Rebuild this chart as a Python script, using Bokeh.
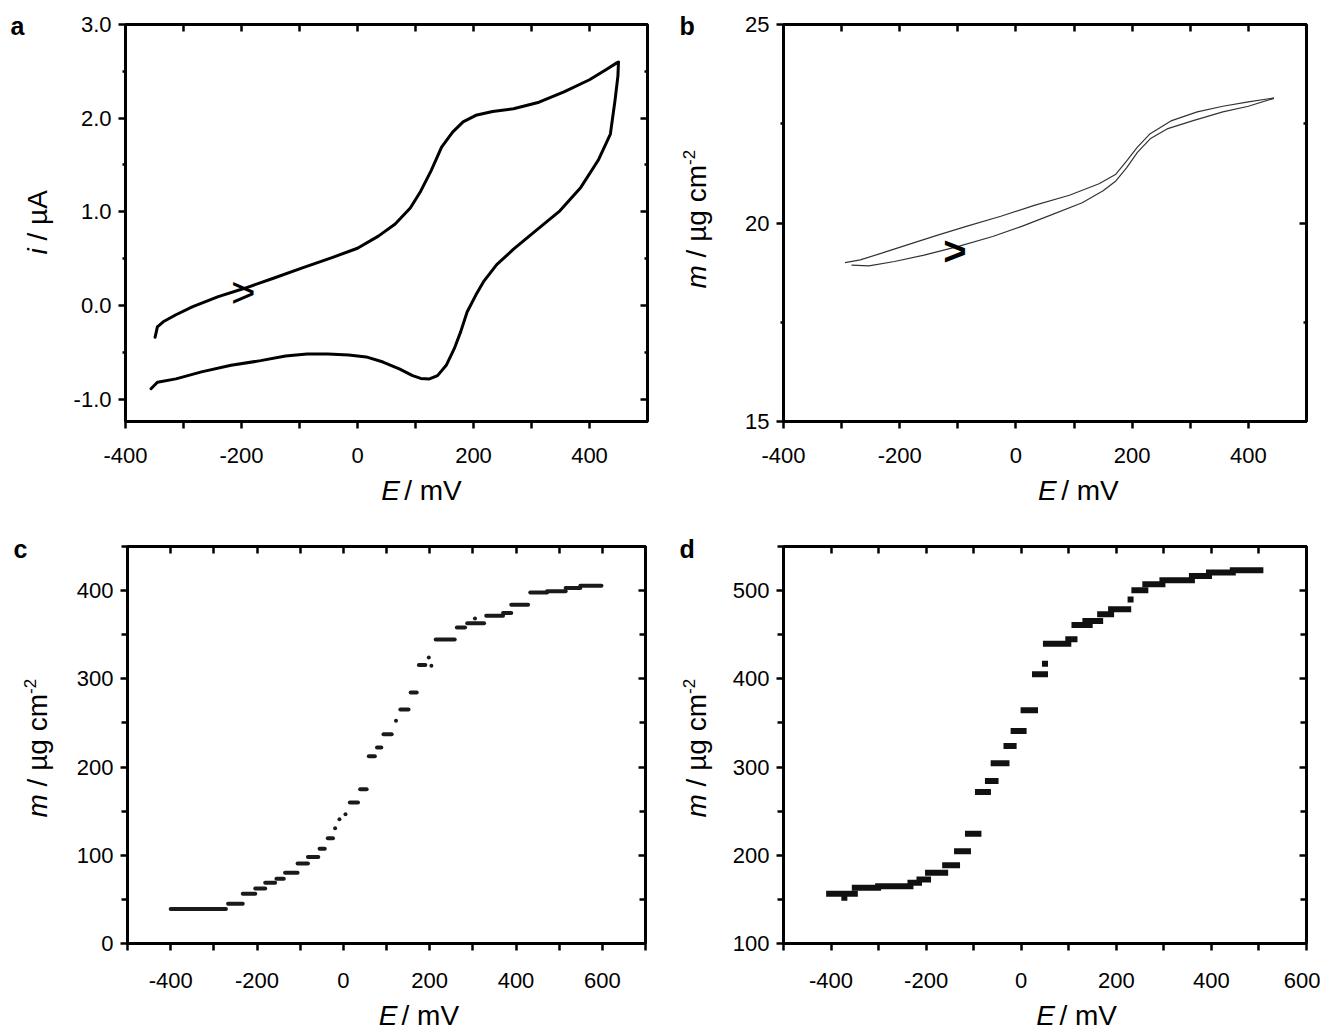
import math
from bokeh.plotting import figure
from bokeh.models import (Range1d, FixedTicker, LinearAxis, Label,
                          PrintfTickFormatter, CustomJSTickFormatter)
from bokeh.layouts import column, row
from bokeh.embed import file_html
from bokeh.resources import INLINE
from bokeh.core.properties import value

FONT = "Liberation Sans"

# ---------------- data ----------------
# (a) cyclic voltammogram: forward scan then reverse scan
cv_E = [-349, -345, -335, -313, -284, -240, -196, -145, -95, -44, 0, 36, 65, 91, 109, 127,
        145, 164, 182, 204, 233, 269, 313, 356, 400, 429, 447, 450,
        449, 444, 436, 415, 385, 349, 306, 269, 240, 218, 204, 189, 178, 167, 153, 138, 124,
        109, 95, 73, 44, 15, -15, -51, -87, -124, -167, -218, -269, -313, -345, -356]
cv_i = [-0.34, -0.23, -0.175, -0.10, -0.013, 0.094, 0.18, 0.29, 0.40, 0.51, 0.61, 0.74, 0.87,
        1.04, 1.22, 1.44, 1.69, 1.85, 1.96, 2.03, 2.07, 2.10, 2.17, 2.28, 2.41, 2.52, 2.59, 2.60,
        2.45, 2.19, 1.83, 1.55, 1.26, 1.01, 0.79, 0.60, 0.435, 0.26, 0.11, -0.07, -0.28, -0.46,
        -0.64, -0.75, -0.785, -0.78, -0.75, -0.68, -0.605, -0.55, -0.53, -0.52, -0.52, -0.54,
        -0.59, -0.64, -0.71, -0.785, -0.82, -0.89]

# (b) mass change during the CV: forward (lower) and reverse (upper) branches
b_fwd_E = [-283, -253, -209, -158, -99, -40, 11, 62, 114, 150, 172, 191, 209, 231, 260, 305, 356, 400, 444]
b_fwd_m = [18.94, 18.92, 19.03, 19.19, 19.41, 19.66, 19.92, 20.21, 20.51, 20.81, 21.06, 21.40,
           21.78, 22.12, 22.37, 22.58, 22.80, 22.94, 23.14]
b_rev_E = [-294, -268, -231, -187, -136, -84, -26, 33, 92, 143, 172, 191, 209, 231, 268, 312, 356, 400, 444]
b_rev_m = [19.0, 19.07, 19.24, 19.45, 19.69, 19.92, 20.17, 20.45, 20.70, 20.99, 21.23, 21.57,
           21.91, 22.25, 22.58, 22.80, 22.94, 23.05, 23.15]

# (c) stepwise mass vs potential (runs of points)
c_E_start = [-400, -267, -233, -204, -181, -155, -135, -106, -82, -55, -36, -19, -9, 5, 15, 39,
             59, 78, 93, 122, 132, 156, 175, 198, 204, 214, 263, 287, 305, 331, 370, 389, 433,
             472, 515, 549]
c_E_end = [-272, -233, -204, -181, -158, -138, -106, -82, -58, -43, -24, -19, -9, 5, 34, 54,
           73, 88, 112, 122, 151, 170, 190, 198, 204, 258, 282, 326, 305, 370, 389, 428, 472,
           515, 549, 598]
c_m = [39, 45, 56.4, 62.4, 68.9, 73.4, 80.2, 90.8, 98.0, 107.5, 119.2, 130.5, 140.8, 146.4,
       159.7, 174.8, 212.3, 222.1, 237.3, 252.4, 265.3, 284.6, 315.6, 324.3, 314.8, 344.5,
       358.3, 363.0, 368.5, 371.6, 374.6, 384.0, 398.0, 399.2, 403.0, 405.6]

# (d) stepwise mass vs potential (runs of points)
d_E_start = [-404, -372, -350, -301, -233, -214, -196, -160, -135, -112, -91, -70, -58, -31, -16,
             5, 29, 50, 52, 99, 112, 135, 166, 189, 230, 238, 261, 297, 359, 395, 445]
d_E_end = [-350, -372, -301, -233, -215, -196, -160, -135, -112, -90, -70, -54, -31, -16, 5,
           29, 50, 50, 99, 112, 144, 166, 189, 225, 230, 261, 297, 359, 395, 445, 503]
d_m = [156.3, 151.8, 163.1, 165.0, 168.8, 172.6, 180.2, 188.8, 204.7, 224.4, 271.6, 284.1,
       304.2, 323.8, 340.8, 364.3, 405.1, 417.2, 439.9, 444.8, 461.1, 465.6, 473.2, 478.8,
       490.0, 500.4, 507.2, 511.7, 516.6, 520.4, 523.1]

# tick values
a_xticks = [-400, -200, 0, 200, 400]
a_xminor = [-300, -100, 100, 300]
a_yticks = [-1.0, 0.0, 1.0, 2.0, 3.0]
a_yminor = [-0.5, 0.5, 1.5, 2.5]
b_yticks = [15, 20, 25]
b_yminor = [17.5, 22.5]
c_xticks = [-400, -200, 0, 200, 400, 600]
c_xminor = [-500, -300, -100, 100, 300, 500, 700]
c_yticks = [0, 100, 200, 300, 400]
c_yminor = [50, 150, 250, 350, 450]
d_yticks = [100, 200, 300, 400, 500]
d_yminor = [150, 250, 350, 450, 550]

# ---------------- helpers ----------------
EMPTY = "return ''"


def make_panel(W, H, bl, br, bt, bb, xr, yr, xt, xm, yt, ym, yfmt, ymin_len, bstand):
    p = figure(width=W, height=H, x_range=Range1d(*xr), y_range=Range1d(*yr),
               output_backend="svg", toolbar_location=None,
               x_axis_location=None, y_axis_location=None,
               min_border_left=bl, min_border_right=br,
               min_border_top=bt, min_border_bottom=bb)
    p.grid.visible = False
    p.outline_line_color = "black"
    p.outline_line_width = 3
    p.background_fill_color = "white"
    p.border_fill_color = "white"
    xtick = FixedTicker(ticks=xt, minor_ticks=xm)
    ytick = FixedTicker(ticks=yt, minor_ticks=ym)
    axes = {
        "below": LinearAxis(ticker=xtick, formatter=PrintfTickFormatter(format="%d")),
        "left": LinearAxis(ticker=ytick, formatter=yfmt),
        "above": LinearAxis(ticker=xtick, formatter=CustomJSTickFormatter(code=EMPTY)),
        "right": LinearAxis(ticker=ytick, formatter=CustomJSTickFormatter(code=EMPTY)),
    }
    for side, ax in axes.items():
        ax.axis_line_color = None
        ax.major_tick_line_color = "black"
        ax.minor_tick_line_color = "black"
        ax.major_tick_line_width = 2.5
        ax.minor_tick_line_width = 2.5
        mlen = 7 if side in ("below", "above") else ymin_len
        if side in ("below", "left"):
            ax.major_tick_out, ax.major_tick_in = 7, 0
            ax.minor_tick_out, ax.minor_tick_in = mlen, 0
            ax.major_label_text_font = FONT
            ax.major_label_text_font_size = "22px"
            ax.major_label_text_color = "black"
            ax.major_label_standoff = bstand if side == "below" else 7
        else:
            ax.major_tick_out, ax.major_tick_in = 0, 7
            ax.minor_tick_out, ax.minor_tick_in = 0, mlen
            ax.major_label_text_font_size = "1px"
            ax.major_label_standoff = 0
        p.add_layout(ax, side)
    return p


def text_fig(W, H):
    t = figure(width=W, height=H, x_range=Range1d(0, W), y_range=Range1d(0, H),
               output_backend="svg", toolbar_location=None, tools="",
               x_axis_location=None, y_axis_location=None, min_border=0)
    t.grid.visible = False
    t.outline_line_color = None
    t.background_fill_color = "white"
    t.border_fill_color = "white"
    t._H = H
    return t


BASE_FIX = 0.37   # renderer places the alphabetic baseline this many em lower


def put(t, x, ytop, text, size, style="normal", angle=0.0, align="left", base="alphabetic"):
    """x, ytop: baseline position in pixels from the text figure's left / top edge"""
    if angle == 0.0:
        ytop -= BASE_FIX * size
    else:
        x -= BASE_FIX * size
    t.text(x=[x], y=[t._H - ytop], text=[text], text_font=value(FONT),
           text_font_size=value(f"{size}px"), text_font_style=value(style),
           angle=angle, text_align=value(align), text_baseline=value(base),
           text_color="black")


TS = 28          # axis title size
SUP = 17         # superscript size
EM = TS
UP = math.pi / 2


def x_title(t, cx, base):
    start = cx - 42
    put(t, start, base, "E", TS, "italic")
    put(t, start + 0.667 * EM + 0.278 * EM, base, "/ mV", TS)


def y_title_mass(t, bx, start):
    put(t, bx, start, "m", TS, "italic", UP)
    o1 = 0.833 * EM + 0.278 * EM
    put(t, bx, start - o1, "/ \u00b5g cm", TS, "normal", UP)
    o2 = o1 + 3.299 * EM
    put(t, bx - 11, start - o2, "-2", SUP, "normal", UP)


def arrow(p, x, y, size, style):
    p.add_layout(Label(x=x, y=y, text=">", text_font=FONT, text_font_size=f"{size}px",
                       text_font_style=style, text_align="center", text_baseline="middle",
                       text_color="black"))


# ---------------- panel a ----------------
ta = text_fig(60, 530)
pa = make_panel(602, 476, 65, 15, 24, 55, (-400, 500), (-1.24, 3.0), a_xticks, a_xminor,
                a_yticks, a_yminor, PrintfTickFormatter(format="%.1f"), 3, 19)
xa = text_fig(602, 54)
pa.line(cv_E, cv_i, line_color="black", line_width=3, line_join="round", line_cap="round")
arrow(pa, -197, 0.14, 42, "normal")
put(ta, 10, 35, "a", 25, "bold")
put(ta, 47, 254, "i", TS, "italic", UP)
put(ta, 47, 254 - 0.222 * EM - 0.278 * EM, "/ \u00b5A", TS, "normal", UP)
x_title(xa, 397 - 60, 24)

# ---------------- panel b ----------------
tb = text_fig(60, 530)
pb = make_panel(598, 476, 61, 14, 24, 55, (-400, 500), (15, 25), a_xticks, a_xminor,
                b_yticks, b_yminor, PrintfTickFormatter(format="%d"), 3, 19)
xb = text_fig(598, 54)
pb.line(b_fwd_E, b_fwd_m, line_color="#333333", line_width=1.2)
pb.line(b_rev_E, b_rev_m, line_color="#333333", line_width=1.2)
arrow(pb, -105, 19.3, 40, "bold")
put(tb, 17, 35, "b", 25, "bold")
y_title_mass(tb, 44, 288)
x_title(xb, 1055 - 722, 24)

# ---------------- panel c ----------------
tc = text_fig(60, 502)
pc = make_panel(602, 470, 67, 17, 16, 57, (-500, 700), (0, 450), c_xticks, c_xminor,
                c_yticks, c_yminor, PrintfTickFormatter(format="%d"), 6, 22)
xc = text_fig(602, 32)
pc.segment(x0=c_E_start, y0=c_m, x1=c_E_end, y1=c_m, line_color="#1a1a1a",
           line_width=4, line_cap="round")
put(tc, 13, 28, "c", 25, "bold")
y_title_mass(tc, 47, 287)
x_title(xc, 394 - 60, 25)

# ---------------- panel d ----------------
td = text_fig(60, 502)
pd = make_panel(598, 470, 61, 14, 16, 57, (-500, 600), (100, 550), c_xticks, c_xminor[:-1],
                d_yticks, d_yminor, PrintfTickFormatter(format="%d"), 6, 22)
xd = text_fig(598, 32)
pd.segment(x0=d_E_start, y0=d_m, x1=d_E_end, y1=d_m, line_color="#111111",
           line_width=6, line_cap="square")
put(td, 17, 28, "d", 25, "bold")
y_title_mass(td, 44, 287)
x_title(xd, 1053 - 722, 25)

layout = column(
    row(ta, column(pa, xa), tb, column(pb, xb)),
    row(tc, column(pc, xc), td, column(pd, xd)),
)
open("out.html", "w").write(file_html(layout, INLINE))
